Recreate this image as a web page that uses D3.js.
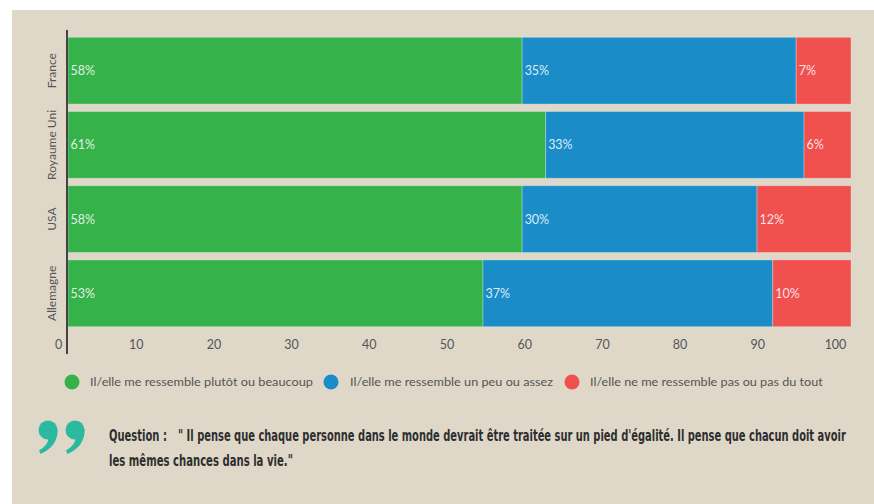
<!DOCTYPE html>
<html lang="fr">
<head>
<meta charset="utf-8">
<script src="https://cdn.jsdelivr.net/npm/d3@7"></script>
<style>
  html, body { margin: 0; padding: 0; background: #ffffff; }
  svg { display: block; }
</style>
</head>
<body>
<svg id="chart" width="874" height="504"></svg>
<script>
// Survey answers per country (percent)
const countries = ["France", "Royaume Uni", "USA", "Allemagne"];
const plutotBeaucoup = [58, 61, 58, 53];
const peuAssez = [35, 33, 30, 37];
const pasDuTout = [7, 6, 12, 10];

const seriesLabels = [
  "Il/elle me ressemble plutôt ou beaucoup",
  "Il/elle me ressemble un peu ou assez",
  "Il/elle ne me ressemble pas ou pas du tout"
];
const seriesColors = ["#35b34a", "#1a8dc9", "#f0504e"];
const xTickValues = [0, 10, 20, 30, 40, 50, 60, 70, 80, 90, 100];

const questionLabel = "Question :";
const questionLine1 = "\" Il pense que chaque personne dans le monde devrait être traitée sur un pied d'égalité. Il pense que chacun doit avoir";
const questionLine2 = "les mêmes chances dans la vie.\"";

const svg = d3.select("#chart");
const FONT = "Lato, 'Open Sans', sans-serif";
const NARROW = "'Liberation Sans Narrow', 'DejaVu Sans Condensed', Roboto, sans-serif";

// Place a text at (x, y) and squeeze it horizontally to a given width
function fitText(sel, x, y, width) {
  sel.each(function () {
    const natural = this.getComputedTextLength();
    const sx = natural > 0 ? width / natural : 1;
    d3.select(this)
      .attr("x", 0).attr("y", 0)
      .attr("transform", `translate(${x},${y}) scale(${sx},1)`);
  });
}

// panel background
svg.append("rect")
  .attr("x", 12).attr("y", 10)
  .attr("width", 862).attr("height", 494)
  .attr("fill", "#dfd8c9");

// stacked rows
const rows = countries.map((c, i) => ({
  country: c,
  values: [plutotBeaucoup[i], peuAssez[i], pasDuTout[i]]
}));
const stacked = d3.stack()
  .keys([0, 1, 2])
  .value((d, k) => d.values[k])(rows);

const x = d3.scaleLinear().domain([0, 100]).range([68, 851]);
const y = d3.scaleBand()
  .domain(countries)
  .range([33.6, 330.4])
  .paddingInner(0.1)
  .paddingOuter(0.05);

const layers = svg.append("g").selectAll("g")
  .data(stacked)
  .join("g")
  .attr("fill", (d, i) => seriesColors[i]);

layers.selectAll("rect")
  .data(d => d)
  .join("rect")
  .attr("x", d => x(d[0]))
  .attr("y", d => y(d.data.country))
  .attr("width", d => x(d[1]) - x(d[0]))
  .attr("height", y.bandwidth())
  .attr("stroke", "rgba(255,255,255,0.28)")
  .attr("stroke-width", 1);

// value labels at the start of each segment
layers.selectAll("text")
  .data((d, i) => d.map(v => ({ v, k: i })))
  .join("text")
  .attr("x", d => x(d.v[0]) + 2.5)
  .attr("y", d => y(d.v.data.country) + y.bandwidth() / 2)
  .attr("dy", "0.36em")
  .attr("fill", "rgba(255,255,255,0.85)")
  .attr("font-family", FONT)
  .attr("font-size", 12.5)
  .text(d => d.v.data.values[d.k] + "%");

// vertical axis line
svg.append("line")
  .attr("x1", 67).attr("x2", 67)
  .attr("y1", 30).attr("y2", 354)
  .attr("stroke", "#444")
  .attr("stroke-width", 2);

// category labels, rotated
svg.append("g").selectAll("text")
  .data(countries)
  .join("text")
  .attr("transform", d => `translate(56,${y(d) + y.bandwidth() / 2}) rotate(-90)`)
  .attr("text-anchor", "middle")
  .attr("fill", "#555")
  .attr("font-family", FONT)
  .attr("font-size", 12)
  .text(d => d);

// bottom tick labels
const xTicks = d3.scaleLinear().domain([0, 100]).range([58, 835]);
const xAxis = svg.append("g")
  .attr("transform", "translate(0,340)")
  .call(d3.axisBottom(xTicks).tickValues(xTickValues).tickSize(0).tickPadding(0));
xAxis.select(".domain").remove();
xAxis.selectAll("text")
  .attr("fill", "#555")
  .attr("font-family", FONT)
  .attr("font-size", 12.5);

// legend
const legendItems = [
  { cx: 72, tx: 90, w: 223 },
  { cx: 331, tx: 350, w: 203 },
  { cx: 572, tx: 590, w: 233 }
];
const legend = svg.append("g").selectAll("g")
  .data(seriesLabels)
  .join("g");
legend.append("circle")
  .attr("cx", (d, i) => legendItems[i].cx)
  .attr("cy", 382)
  .attr("r", 7.5)
  .attr("fill", (d, i) => seriesColors[i]);
legend.append("text")
  .attr("dy", "0.35em")
  .attr("fill", "#555")
  .attr("font-family", FONT)
  .attr("font-size", 12)
  .text(d => d)
  .each(function (d, i) {
    fitText(d3.select(this), legendItems[i].tx, 382, legendItems[i].w);
  });

// closing quotation mark
const quote = svg.append("g").attr("fill", "#2bb9a0");
[48, 75].forEach(cx => {
  const g = quote.append("g").attr("transform", `translate(${cx},430)`);
  g.append("circle").attr("r", 9.5);
  g.append("path").attr("d", "M9.5,-1 C10.5,12 2,20 -7.5,24 L-9,20.5 C-3,17 1,12 0,8 Z");
});

// question text
const qText = svg.append("g")
  .attr("fill", "#2e2e2e")
  .attr("font-family", NARROW)
  .attr("font-weight", "bold")
  .attr("font-size", 15);
fitText(qText.append("text").text(questionLabel), 109, 441, 58);
fitText(qText.append("text").text(questionLine1), 178, 441, 668);
fitText(qText.append("text").text(questionLine2), 109, 466, 184);
</script>
</body>
</html>
